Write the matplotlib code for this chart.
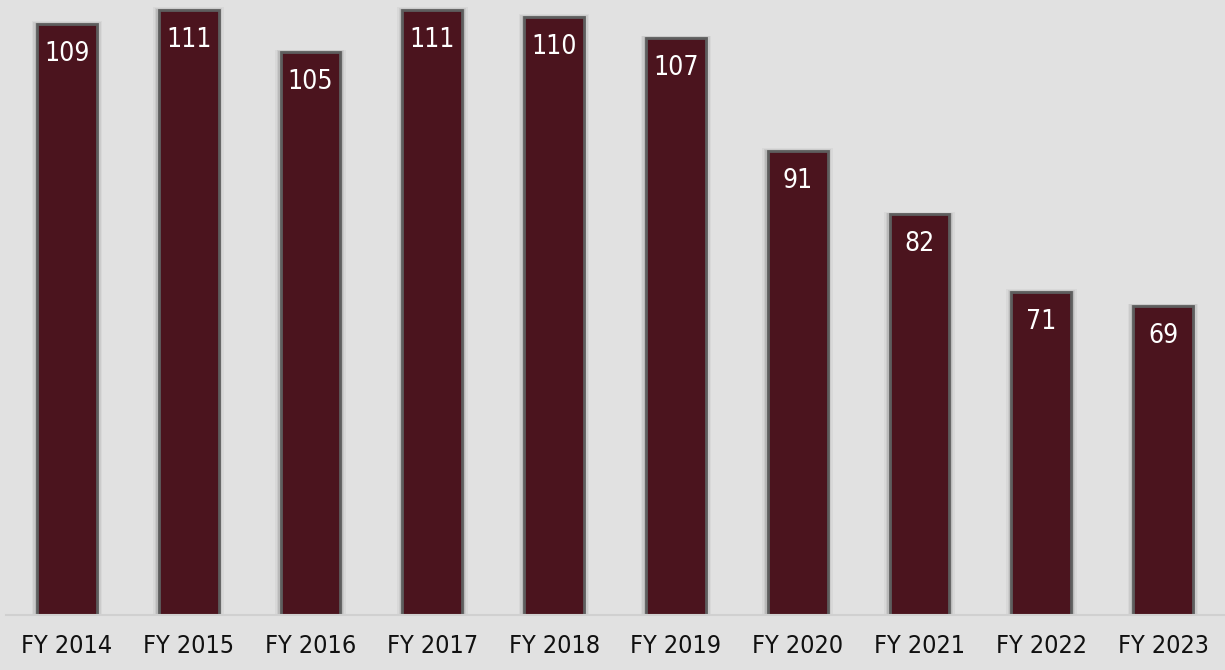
import numpy as np
import matplotlib.pyplot as plt

# fiscal years and values
years = ["FY 2014", "FY 2015", "FY 2016", "FY 2017", "FY 2018",
         "FY 2019", "FY 2020", "FY 2021", "FY 2022", "FY 2023"]
values = [109, 111, 105, 111, 110, 107, 91, 82, 71, 69]

bg = "#e1e1e1"
bar_color = "#4b141e"
font = dict(family="DejaVu Sans", fontstretch="condensed")

fig = plt.figure(figsize=(12.25, 6.7), dpi=100, facecolor=bg)
ax = fig.add_axes([6 / 1225, 55 / 670, 1218 / 1225, 615 / 670])
ax.set_facecolor(bg)

x = np.arange(len(values))
w = 0.49

# soft shadow around bars
for k, a in [(0.09, 0.06), (0.065, 0.09), (0.04, 0.14)]:
    ax.bar(x, np.array(values) + k * 4, width=w + k, color="#505050",
           alpha=a, linewidth=0, zorder=1)
ax.bar(x, values, width=w, color=bar_color, edgecolor="#5e5e5e",
       linewidth=2, zorder=2)

for xi, v in zip(x, values):
    ax.annotate(str(v), (xi, v), xytext=(0, -12), textcoords="offset points",
                ha="center", va="top", color="white", fontsize=19, zorder=3,
                **font)

ax.set_xlim(-0.5, len(values) - 0.5)
ax.set_ylim(25.2, 112.4)
ax.set_xticks(x)
ax.set_xticklabels(years, fontsize=18, **font)
ax.tick_params(axis="x", length=0, pad=14, colors="#111111")
ax.set_yticks([])
for s in ["top", "right", "left"]:
    ax.spines[s].set_visible(False)
ax.spines["bottom"].set_color("#d0d0d0")
ax.spines["bottom"].set_linewidth(1.5)

fig.savefig("out.png", dpi=100, facecolor=bg)
